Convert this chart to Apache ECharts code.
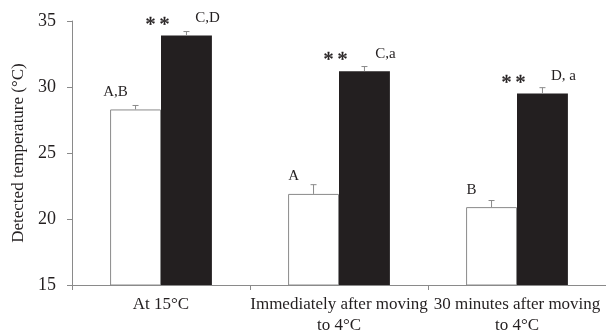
<!DOCTYPE html>
<html>
<head>
<meta charset="utf-8">
<script src="https://cdn.jsdelivr.net/npm/echarts@6/dist/echarts.min.js"></script>
<style>
	html, body { margin: 0; padding: 0; background: #fff; }
	#main { width: 606px; height: 336px; }
</style>
</head>
<body>
<div id="main"></div>
<script>
// 資料
var categories = ["At 15°C", "Immediately after moving\nto 4°C", "30 minutes after moving\nto 4°C"];
var whiteValues = [28.3, 21.9, 20.9];
var whiteErrors = [0.3, 0.7, 0.5];
var blackValues = [33.9, 31.2, 29.5];
var blackErrors = [0.3, 0.35, 0.45];
var whiteLetters = ["A,B", "A", "B"];
var blackLetters = ["C,D", "C,a", "D, a"];
var sigMarks = ["*\u2009*", "*\u2009*", "*\u2009*"];
var yTicks = [15, 20, 25, 30, 35];

var font = "Liberation Serif";
var ink = "#231f20";
var grey = "#8a8a8a";
var barFrac = 0.286;

// error bar data: [category, value, error, group]
var errData = [];
whiteValues.forEach(function (v, i) {
	errData.push([i, v, whiteErrors[i], 0]);
});
blackValues.forEach(function (v, i) {
	errData.push([i, v, blackErrors[i], 1]);
});

function renderErr(params, api) {
	var cat = api.value(0);
	var val = api.value(1);
	var err = api.value(2);
	var grp = api.value(3);
	var band = api.size([1, 0])[0];
	var c = api.coord([cat, val]);
	var x = c[0] + (grp === 0 ? -1 : 1) * band * barFrac / 2;
	var top = api.coord([cat, val + err])[1];
	var kids = [
		{ type: "line", shape: { x1: x, y1: c[1], x2: x, y2: top }, style: { stroke: grey, lineWidth: 1 } },
		{ type: "line", shape: { x1: x - 3, y1: top, x2: x + 3, y2: top }, style: { stroke: grey, lineWidth: 1 } }
	];
	if (grp === 1) {
		// 顯著性標記
		kids.push({
			type: "text",
			x: x - 29,
			y: c[1] - 10,
			style: {
				text: sigMarks[cat],
				font: "20px '" + font + "'",
				fill: ink,
				stroke: ink,
				lineWidth: 0.4,
				textAlign: "center",
				textVerticalAlign: "middle"
			}
		});
	}
	return { type: "group", children: kids };
}

var myChart = echarts.init(document.getElementById("main"), null, { renderer: "canvas" });
var option = {
	animation: false,
	textStyle: { fontFamily: font, color: ink },
	grid: { left: 72, right: -4, top: 21, bottom: 46 },
	xAxis: {
		type: "category",
		data: categories,
		axisLine: { lineStyle: { color: grey, width: 1 } },
		axisTick: { show: true, length: 5, lineStyle: { color: grey } },
		axisLabel: { fontFamily: font, fontSize: 17, color: ink, lineHeight: 21, margin: 9, interval: 0 }
	},
	yAxis: {
		type: "value",
		min: 15,
		max: 35,
		interval: 5,
		name: "Detected temperature (°C)",
		nameLocation: "middle",
		nameGap: 45,
		nameTextStyle: { fontFamily: font, fontSize: 17, color: ink },
		axisLine: { show: true, lineStyle: { color: grey, width: 1 } },
		axisTick: { show: true, length: 5, lineStyle: { color: grey } },
		axisLabel: {
			fontFamily: font,
			fontSize: 18,
			color: ink,
			margin: 16,
			formatter: function (v) { return yTicks.indexOf(v) >= 0 ? String(v) : ""; }
		},
		splitLine: { show: false }
	},
	series: [
		{
			type: "bar",
			data: whiteValues,
			barGap: "0%",
			barCategoryGap: "42.8%",
			itemStyle: { color: "#ffffff", borderColor: grey, borderWidth: 1 },
			label: {
				show: true,
				position: "top",
				distance: 10,
				offset: [-20, 0],
				fontFamily: font,
				fontSize: 15,
				color: ink,
				formatter: function (p) { return whiteLetters[p.dataIndex]; }
			}
		},
		{
			type: "bar",
			data: blackValues,
			barGap: "0%",
			barCategoryGap: "42.8%",
			itemStyle: { color: ink },
			label: {
				show: true,
				position: "top",
				distance: 10,
				offset: [21, 0],
				fontFamily: font,
				fontSize: 15,
				color: ink,
				formatter: function (p) { return blackLetters[p.dataIndex]; }
			}
		},
		{
			type: "custom",
			renderItem: renderErr,
			data: errData,
			z: 5
		}
	]
};
myChart.setOption(option);
window.addEventListener("resize", myChart.resize);
</script>
</body>
</html>
